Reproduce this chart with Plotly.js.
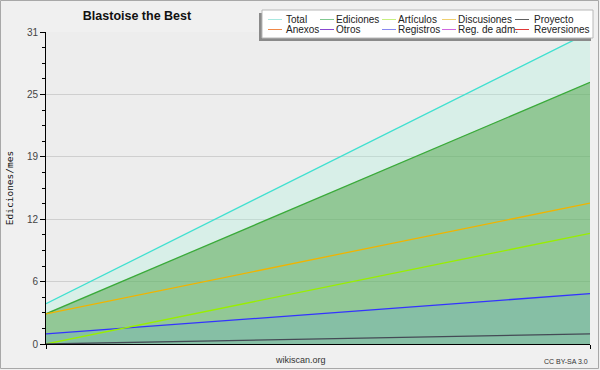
<!DOCTYPE html>
<html>
<head>
<meta charset="utf-8">
<script src="https://cdn.plot.ly/plotly-3.0.1.min.js"></script>
<style>
html,body{margin:0;padding:0;background:#f0f0f0;}
#chart{width:600px;height:370px;}
</style>
</head>
<body>
<div id="chart"></div>
<script>
// ---- data ----
const periods = [0, 1];
const total = [4, 31];
const ediciones = [3, 26];
const articulos = [0, 11];
const discusiones = [3, 14];
const proyecto = [0, 1];
const registros = [1, 5];

const yTickVals = [0, 6.2, 12.4, 18.6, 24.8, 31];
const yTickText = ['0', '6', '12', '19', '25', '31'];

const legendNames = ['Total', 'Ediciones', 'Artículos', 'Discusiones', 'Proyecto',
                     'Anexos', 'Otros', 'Registros', 'Reg. de adm.', 'Reversiones'];
const legendColors = ['#a8e8e0', '#80c890', '#c8f080', '#f0d070', '#606060',
                      '#f08848', '#8848d0', '#8888f0', '#d068e0', '#e03838'];

// ---- geometry helpers (pixel -> paper) ----
const L = 46, R = 10, T = 32, B = 26, W = 600, H = 370;
const PW = W - L - R, PH = H - T - B;
const px = v => (v - L) / PW;
const py = v => (H - B - v) / PH;

const traces = [
  {x: periods, y: total, mode: 'lines', fill: 'tozeroy',
   fillcolor: 'rgba(168,245,221,0.3)', line: {color: '#40e0d0', width: 1.3}, name: 'Total'},
  {x: periods, y: ediciones, mode: 'lines', fill: 'tozeroy',
   fillcolor: 'rgba(75,162,67,0.5)', line: {color: '#3aaa3a', width: 1.3}, name: 'Ediciones'},
  {x: periods, y: registros, mode: 'lines', fill: 'tozeroy',
   fillcolor: 'rgba(91,156,225,0.2)', line: {color: '#3333ff', width: 1.3}, name: 'Registros'},
  {x: periods, y: articulos, mode: 'lines', line: {color: '#99ee00', width: 1.3}, name: 'Artículos'},
  {x: periods, y: discusiones, mode: 'lines', line: {color: '#f0b400', width: 1.3}, name: 'Discusiones'},
  {x: periods, y: proyecto, mode: 'lines', line: {color: '#444a55', width: 1.3}, name: 'Proyecto'}
];

// legend layout (custom box)
const colLine = [268, 320, 382, 442, 515];
const colText = [285, 335, 397, 457, 533];
const rowY = [19.5, 29.5];

const shapes = [
  // outer border
  {type: 'rect', xref: 'paper', yref: 'paper', x0: px(0.5), x1: px(598.5), y0: py(0.5), y1: py(368.5),
   line: {color: '#a8a8a8', width: 1}, fillcolor: 'rgba(0,0,0,0)', layer: 'above'},
  // legend shadow
  {type: 'rect', xref: 'paper', yref: 'paper', x0: px(259), x1: px(591), y0: py(13), y1: py(41),
   line: {width: 0}, fillcolor: '#8a8a8a', layer: 'above'},
  // legend box
  {type: 'rect', xref: 'paper', yref: 'paper', x0: px(262), x1: px(593), y0: py(10), y1: py(38),
   line: {color: '#b8b8b8', width: 1}, fillcolor: '#ffffff', layer: 'above'}
];
const annotations = [];
legendNames.forEach((n, i) => {
  const r = Math.floor(i / 5), c = i % 5;
  shapes.push({type: 'line', xref: 'paper', yref: 'paper',
    x0: px(colLine[c]), x1: px(colLine[c] + 14), y0: py(rowY[r]), y1: py(rowY[r]),
    line: {color: legendColors[i], width: 1}, layer: 'above'});
  annotations.push({xref: 'paper', yref: 'paper', x: px(colText[c] - 1), y: py(rowY[r]),
    xanchor: 'left', yanchor: 'middle', showarrow: false, text: n,
    font: {family: 'Liberation Sans, Arial, sans-serif', size: 10, color: '#222'}});
});
annotations.push({xref: 'paper', yref: 'paper', x: px(300), y: py(360), xanchor: 'center', yanchor: 'middle',
  showarrow: false, text: 'wikiscan.org', font: {family: 'Liberation Sans, Arial, sans-serif', size: 9, color: '#333'}});
annotations.push({xref: 'paper', yref: 'paper', x: px(590), y: py(361), xanchor: 'right', yanchor: 'middle',
  showarrow: false, text: 'CC BY-SA 3.0', font: {family: 'Liberation Sans, Arial, sans-serif', size: 7, color: '#333'}});

const layout = {
  width: W, height: H,
  margin: {l: L, r: R, t: T, b: B, pad: 0},
  paper_bgcolor: '#f0f0f0',
  plot_bgcolor: '#ededed',
  showlegend: false,
  title: {text: '<b>Blastoise the Best</b>', x: 137 / W, xanchor: 'center', y: 1 - 16 / H, yanchor: 'middle',
          xref: 'container', yref: 'container',
          font: {family: 'Liberation Sans, Arial, sans-serif', size: 12.5, color: '#111'}},
  xaxis: {range: [0, 1], tickmode: 'array', tickvals: [0, 1], showticklabels: false,
          ticks: 'outside', ticklen: 4, tickcolor: '#000', showline: true, linecolor: '#000', linewidth: 1,
          showgrid: true, gridcolor: '#cfcfcf', zeroline: false, fixedrange: true},
  yaxis: {range: [0, 31], tickmode: 'array', tickvals: yTickVals, ticktext: yTickText,
          ticks: 'outside', ticklen: 5, tickcolor: '#000', showline: true, linecolor: '#000', linewidth: 1,
          showgrid: true, gridcolor: '#cfcfcf', zeroline: false, fixedrange: true,
          tickfont: {family: 'Liberation Sans, Arial, sans-serif', size: 10, color: '#444'},
          minor: {ticks: 'outside', ticklen: 3, tickcolor: '#000', tickmode: 'linear', tick0: 0, dtick: 1.55, showgrid: false},
          title: {text: 'Ediciones/mes', standoff: 11,
                  font: {family: 'DejaVu Sans Mono, monospace', size: 9.5, color: '#111'}}},
  shapes: shapes,
  annotations: annotations
};

Plotly.newPlot('chart', traces, layout, {displayModeBar: false, staticPlot: true});
</script>
</body>
</html>
